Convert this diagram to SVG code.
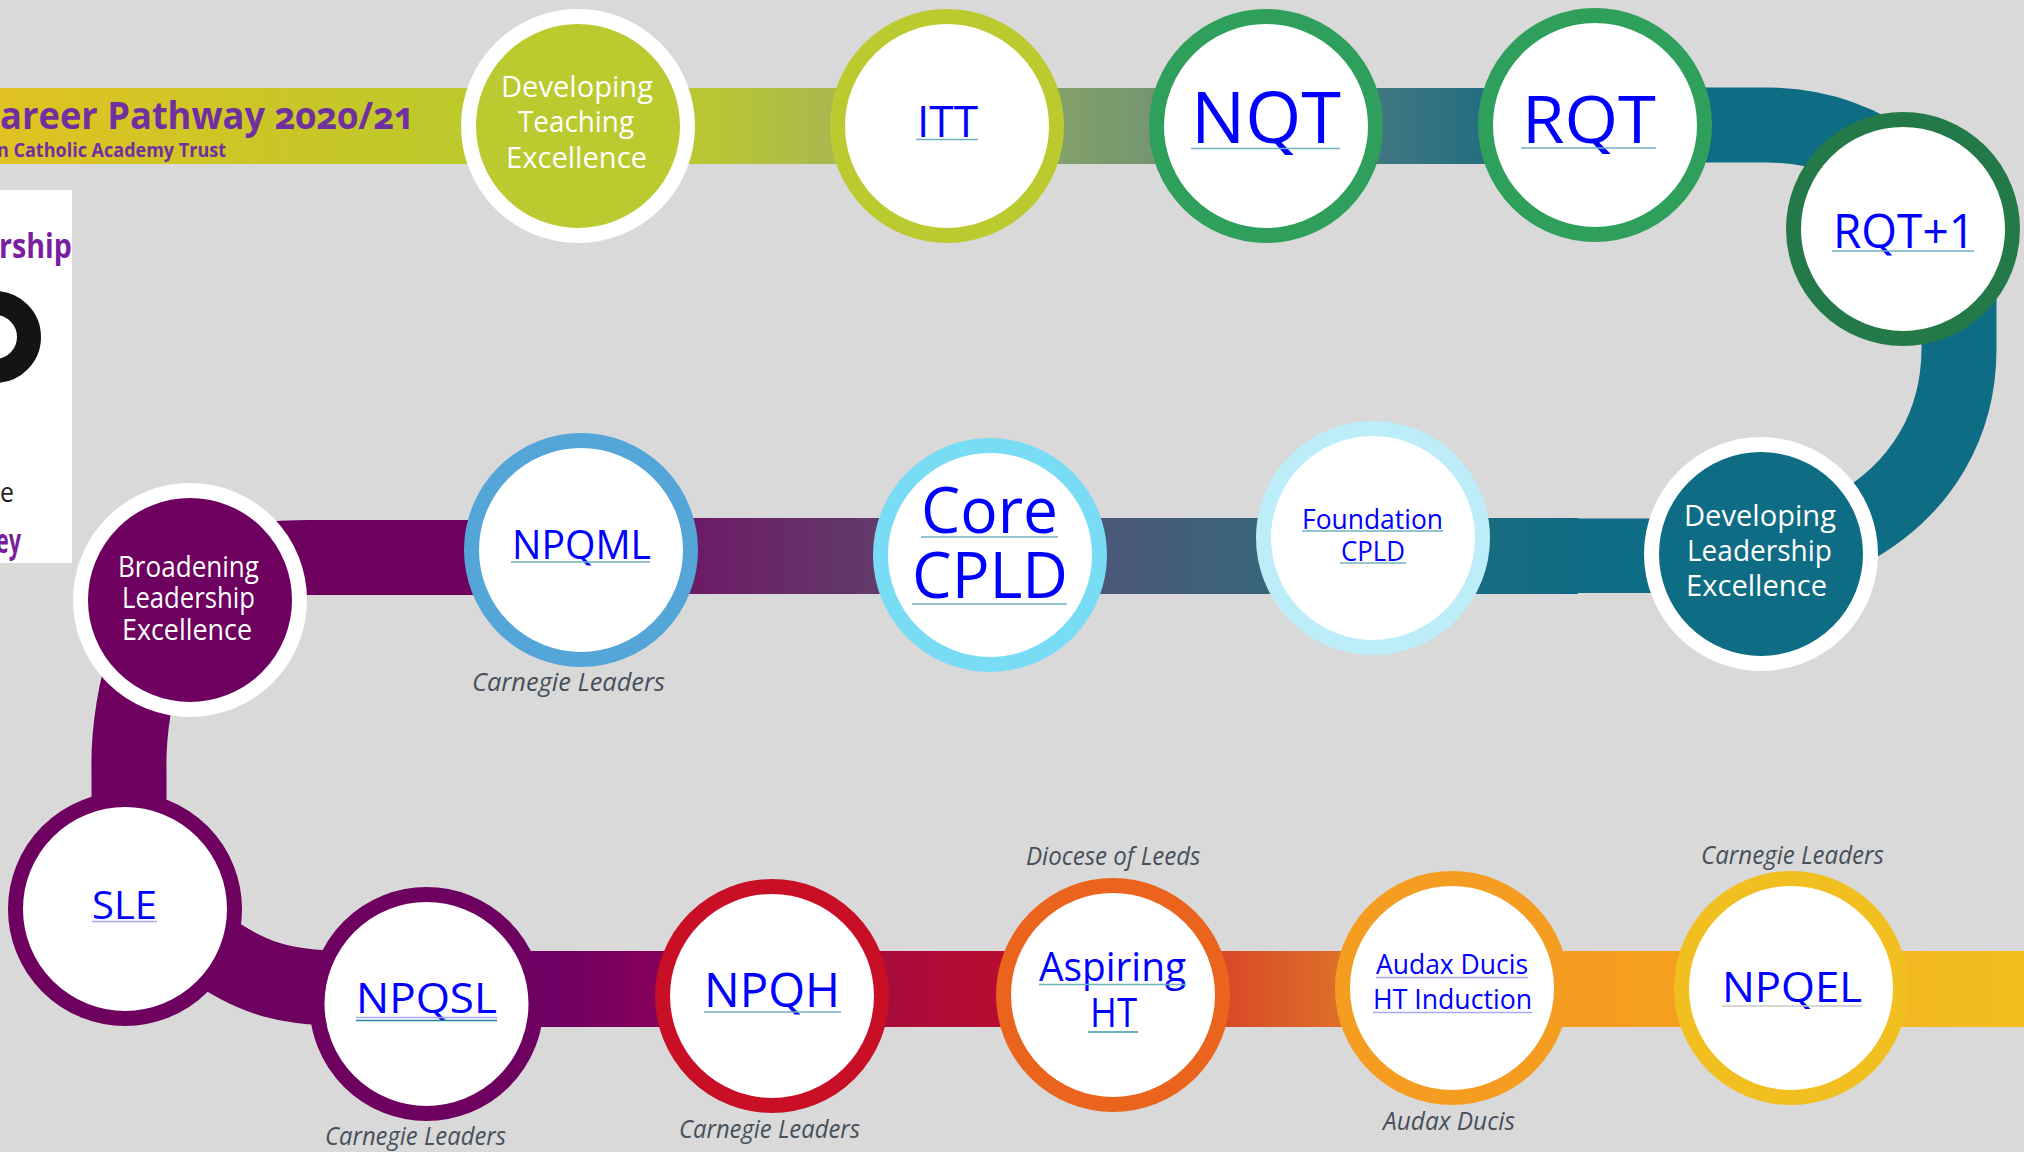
<svg xmlns="http://www.w3.org/2000/svg" width="2024" height="1152" viewBox="0 0 2024 1152">
<style>
text{font-family:"Open Sans","Noto Sans",sans-serif}
.ring{stroke-width:15}
.w{fill:#fff}
.lbl{fill:#fff;text-anchor:start;font-size:30px}
.lnk{fill:#00f}
.ul{stroke:#6fb0c0;stroke-width:1.5}
.cap{fill:#47505a;font-style:italic;font-size:26px}
.band{fill:none;stroke-width:75}
.ttl{fill:#7030a0;font-weight:700;font-feature-settings:"onum"}
.pur{fill:#7a1fa0;font-weight:700;font-size:34px}
</style>
<defs>
<linearGradient id="g1" gradientUnits="userSpaceOnUse" x1="0" y1="0" x2="1650" y2="0">
<stop offset="0" stop-color="#e0c222"/><stop offset="0.273" stop-color="#bdc92b"/><stop offset="0.424" stop-color="#b9c732"/><stop offset="0.503" stop-color="#aab84f"/><stop offset="0.645" stop-color="#82a06a"/><stop offset="0.696" stop-color="#759670"/><stop offset="0.838" stop-color="#3f7682"/><stop offset="0.896" stop-color="#256f80"/><stop offset="0.97" stop-color="#0e6c84"/>
</linearGradient>
<linearGradient id="g2" gradientUnits="userSpaceOnUse" x1="698" y1="0" x2="1578" y2="0">
<stop offset="0" stop-color="#6c1c66"/><stop offset="0.199" stop-color="#623a6b"/><stop offset="0.465" stop-color="#4a5879"/><stop offset="0.634" stop-color="#3a647a"/><stop offset="0.9" stop-color="#176c82"/><stop offset="1" stop-color="#106c84"/>
</linearGradient>
<linearGradient id="g3" gradientUnits="userSpaceOnUse" x1="541" y1="0" x2="2024" y2="0">
<stop offset="0" stop-color="#6c0064"/><stop offset="0.077" stop-color="#85005a"/><stop offset="0.235" stop-color="#a80c3c"/><stop offset="0.31" stop-color="#b80c30"/><stop offset="0.464" stop-color="#d84a28"/><stop offset="0.54" stop-color="#de7028"/><stop offset="0.688" stop-color="#f59b20"/><stop offset="0.767" stop-color="#f5a020"/><stop offset="0.917" stop-color="#f2b722"/><stop offset="1" stop-color="#f2be1e"/>
</linearGradient>
</defs>
<rect width="2024" height="1152" fill="#d9d9d9"/>

<g id="connectors">
<rect x="0" y="88" width="1650" height="76" fill="url(#g1)"/>
<path class="band" stroke="#0e6c84" d="M1640,125 L1767,125 C1815,125 1860,140 1900,170"/>
<path class="band" stroke="#0e6c84" d="M1959,290 L1959,345 C1960,420 1925,490 1845,532"/>
<rect x="1578" y="518.500" width="90" height="74.500" fill="#0e6c84"/>
<rect x="640" y="518" width="938" height="76" fill="url(#g2)"/>
<path class="band" stroke="#6e0060" d="M230,566 Q262,557.500 310,557.500 L590,557.500"/>
<path class="band" stroke="#6e0060" d="M150,640 C135,690 128,730 129,772 L129,830"/>
<path class="band" stroke="#6e0060" d="M205,945 C250,978 285,988 340,988"/>
<rect x="500" y="951" width="1524" height="76" fill="url(#g3)"/>
</g>

<g id="title">
<text class="ttl" x="-23" y="129" font-size="38" textLength="438" lengthAdjust="spacingAndGlyphs">Career Pathway 2020/21</text>
<text class="ttl" x="-3" y="157" font-size="20" textLength="229" lengthAdjust="spacingAndGlyphs">n Catholic Academy Trust</text>
</g>

<g id="side-panel">
<rect x="0" y="190" width="72" height="373" fill="#fff"/>
<text class="pur" x="-1" y="258" textLength="73" lengthAdjust="spacingAndGlyphs">rship</text>
<circle cx="-5" cy="337" r="34" fill="none" stroke="#141414" stroke-width="24"/>
<text x="0" y="502" font-size="28" fill="#222" textLength="14" lengthAdjust="spacingAndGlyphs">e</text>
<text class="pur" x="-4" y="553" textLength="25" lengthAdjust="spacingAndGlyphs">ey</text>
</g>

<g id="n-dte">
<circle class="ring" cx="578" cy="126" r="109.500" fill="#bbca2e" stroke="#fff"/>
<text class="lbl" x="501" y="97" textLength="152" lengthAdjust="spacingAndGlyphs">Developing</text>
<text class="lbl" x="518" y="132" textLength="116" lengthAdjust="spacingAndGlyphs">Teaching</text>
<text class="lbl" x="506" y="168" textLength="141" lengthAdjust="spacingAndGlyphs">Excellence</text>
</g>
<g id="n-itt">
<circle class="ring w" cx="947" cy="126" r="109.500" stroke="#bbca2e"/>
<text class="lnk" x="917" y="137" font-size="43" textLength="61" lengthAdjust="spacingAndGlyphs">ITT</text>
<line class="ul" x1="916" y1="139.500" x2="978" y2="139.500"/>
</g>
<g id="n-nqt">
<circle class="ring w" cx="1266" cy="126" r="109.500" stroke="#2ea05c"/>
<text class="lnk" x="1191" y="143" font-size="71" textLength="150" lengthAdjust="spacingAndGlyphs">NQT</text>
<line class="ul" x1="1191" y1="148.500" x2="1340" y2="148.500"/>
</g>
<g id="n-rqt">
<circle class="ring w" cx="1595" cy="125" r="109.500" stroke="#2ea05c"/>
<text class="lnk" x="1522" y="143" font-size="66" textLength="134" lengthAdjust="spacingAndGlyphs">RQT</text>
<line class="ul" x1="1521" y1="148" x2="1656" y2="148"/>
</g>
<g id="n-rqt1">
<circle class="ring w" cx="1903" cy="229" r="109.500" stroke="#237a48"/>
<text class="lnk" x="1833" y="248" font-size="47" textLength="142" lengthAdjust="spacingAndGlyphs">RQT+1</text>
<line class="ul" x1="1832" y1="251" x2="1974" y2="251"/>
</g>
<g id="n-dle">
<circle class="ring" cx="1761" cy="554" r="109.500" fill="#0e6c84" stroke="#fff"/>
<text class="lbl" x="1684" y="526" textLength="152" lengthAdjust="spacingAndGlyphs">Developing</text>
<text class="lbl" x="1687" y="561" textLength="145" lengthAdjust="spacingAndGlyphs">Leadership</text>
<text class="lbl" x="1686" y="595.500" textLength="141" lengthAdjust="spacingAndGlyphs">Excellence</text>
</g>
<g id="n-foundation">
<circle class="ring w" cx="1373" cy="538" r="109.500" stroke="#bcedf9"/>
<text class="lnk" x="1302" y="529" font-size="28" textLength="141" lengthAdjust="spacingAndGlyphs">Foundation</text>
<line class="ul" x1="1302" y1="531" x2="1443" y2="531"/>
<text class="lnk" x="1341" y="561" font-size="28" textLength="64" lengthAdjust="spacingAndGlyphs">CPLD</text>
<line class="ul" x1="1340" y1="563" x2="1406" y2="563"/>
</g>
<g id="n-core">
<circle class="ring w" cx="990" cy="555" r="109.500" stroke="#78dcf4"/>
<text class="lnk" x="921" y="533" font-size="64" textLength="137" lengthAdjust="spacingAndGlyphs">Core</text>
<line class="ul" x1="921" y1="537" x2="1058" y2="537"/>
<text class="lnk" x="912" y="598" font-size="64" textLength="156" lengthAdjust="spacingAndGlyphs">CPLD</text>
<line class="ul" x1="912" y1="604" x2="1067" y2="604"/>
</g>
<g id="n-npqml">
<circle class="ring w" cx="581" cy="550" r="109.500" stroke="#54a5d8"/>
<text class="lnk" x="512" y="559" font-size="40" textLength="139" lengthAdjust="spacingAndGlyphs">NPQML</text>
<line class="ul" x1="511" y1="562" x2="650" y2="562"/>
<text class="cap" x="472" y="691" textLength="193" lengthAdjust="spacingAndGlyphs">Carnegie Leaders</text>
</g>
<g id="n-ble">
<circle class="ring" cx="190" cy="600" r="109.500" fill="#6e0060" stroke="#fff"/>
<text class="lbl" x="118" y="577" font-size="28" textLength="141" lengthAdjust="spacingAndGlyphs">Broadening</text>
<text class="lbl" x="122" y="608" font-size="28" textLength="133" lengthAdjust="spacingAndGlyphs">Leadership</text>
<text class="lbl" x="122" y="640" font-size="28" textLength="130" lengthAdjust="spacingAndGlyphs">Excellence</text>
</g>
<g id="n-sle">
<circle class="ring w" cx="125" cy="909" r="109.500" stroke="#6e0060"/>
<text class="lnk" x="92" y="919" font-size="38" textLength="65" lengthAdjust="spacingAndGlyphs">SLE</text>
<line class="ul" x1="92" y1="921.500" x2="157" y2="921.500" style="stroke:#a9a9f5"/>
</g>
<g id="n-npqsl">
<circle class="ring w" cx="426.500" cy="1004" r="109.500" stroke="#6e0060"/>
<text class="lnk" x="356" y="1013" font-size="42" textLength="141" lengthAdjust="spacingAndGlyphs">NPQSL</text>
<line class="ul" x1="356" y1="1017.500" x2="497" y2="1017.500" style="stroke:#a9a9f5"/>
<line class="ul" x1="356" y1="1020.500" x2="497" y2="1020.500" style="stroke:#1c8a9c"/>
<text class="cap" x="325" y="1145" textLength="181" lengthAdjust="spacingAndGlyphs">Carnegie Leaders</text>
</g>
<g id="n-npqh">
<circle class="ring w" cx="772" cy="996" r="109.500" stroke="#c80f26"/>
<text class="lnk" x="704" y="1007" font-size="48" textLength="136" lengthAdjust="spacingAndGlyphs">NPQH</text>
<line class="ul" x1="704" y1="1012" x2="841" y2="1012"/>
<text class="cap" x="679" y="1138" textLength="181" lengthAdjust="spacingAndGlyphs">Carnegie Leaders</text>
</g>
<g id="n-aspiring">
<circle class="ring w" cx="1113" cy="995" r="109.500" stroke="#ea641e"/>
<text class="lnk" x="1039" y="981" font-size="40" textLength="147" lengthAdjust="spacingAndGlyphs">Aspiring</text>
<line class="ul" x1="1039" y1="984.500" x2="1186" y2="984.500"/>
<text class="lnk" x="1090" y="1027" font-size="40" textLength="47" lengthAdjust="spacingAndGlyphs">HT</text>
<line class="ul" x1="1088" y1="1032" x2="1138" y2="1032" style="stroke-width:2"/>
<text class="cap" x="1026" y="865" textLength="174.500" lengthAdjust="spacingAndGlyphs">Diocese of Leeds</text>
</g>
<g id="n-audax">
<circle class="ring w" cx="1452" cy="988" r="109.500" stroke="#f49d20"/>
<text class="lnk" x="1376" y="974" font-size="27" textLength="152" lengthAdjust="spacingAndGlyphs">Audax Ducis</text>
<line class="ul" x1="1376" y1="977.500" x2="1528" y2="977.500" style="stroke:#a9a9f5"/>
<text class="lnk" x="1373" y="1009" font-size="27" textLength="159" lengthAdjust="spacingAndGlyphs">HT Induction</text>
<line class="ul" x1="1373" y1="1012.500" x2="1532" y2="1012.500" style="stroke:#a9a9f5"/>
<text class="cap" x="1383" y="1130" textLength="132" lengthAdjust="spacingAndGlyphs">Audax Ducis</text>
</g>
<g id="n-npqel">
<circle class="ring w" cx="1791" cy="988" r="109.500" stroke="#f2bf20"/>
<text class="lnk" x="1722" y="1002" font-size="42" textLength="140" lengthAdjust="spacingAndGlyphs">NPQEL</text>
<line class="ul" x1="1722" y1="1006" x2="1862" y2="1006" style="stroke:#c9c9c9"/>
<text class="cap" x="1701" y="864" textLength="183" lengthAdjust="spacingAndGlyphs">Carnegie Leaders</text>
</g>
</svg>
